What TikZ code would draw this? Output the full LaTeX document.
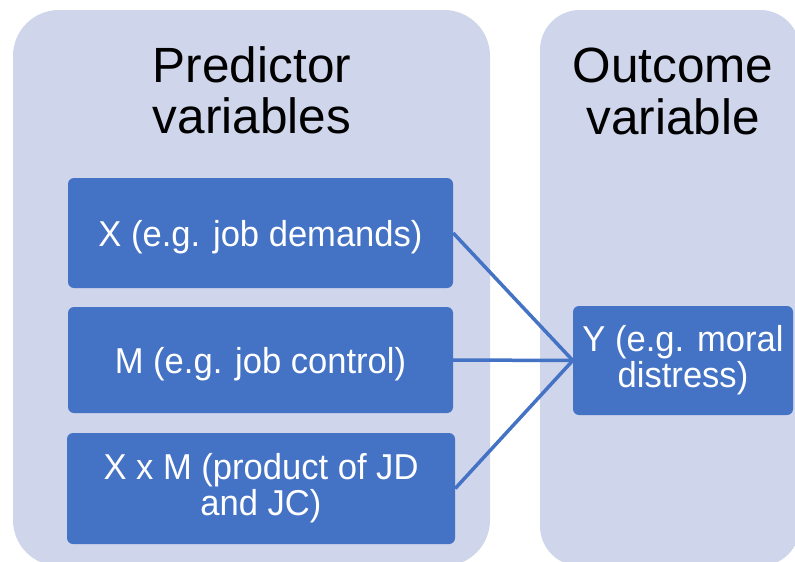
\documentclass[tikz,border=0pt]{standalone}
\usepackage{fontspec}
\setmainfont{Liberation Sans}
\newfontfamily\boxfont[FakeStretch=0.96]{Liberation Sans}
\definecolor{panelfill}{HTML}{CFD5EA}
\definecolor{boxblue}{HTML}{4472C4}

\begin{document}
\begin{tikzpicture}[x=1pt,y=-1pt,
  panelbg/.style={fill=panelfill, rounded corners=46pt},
  varbox/.style={fill=boxblue, rounded corners=6pt, inner sep=0pt, text=white,
    align=center, font=\boxfont\fontsize{36}{36}\selectfont},
  oneline/.style={text depth=0pt},
  heading/.style={align=center, inner sep=0pt, font=\fontsize{49.5}{51.5}\selectfont},
  link/.style={draw=boxblue, line width=3.5pt}]
  \useasboundingbox[fill=white] (0,0) rectangle (795,562);

  % column panels, cut off at the page edges
  \begin{scope}
    \clip (0,0) rectangle (795,562);
    \path[panelbg] (13,10) rectangle (490,566);
    \path[panelbg, rounded corners=40pt] (540,10) rectangle (800,566);
  \end{scope}

  % column headings
  \node[heading] (pred) at (252,90.5) {Predictor\\variables};
  \node[heading] (outc) at (673,91.5) {Outcome\\variable};

  % variables
  \node[varbox, oneline, minimum width=385pt, minimum height=110pt] (x)  at (260.5,233) {X (e.g. job demands)};
  \node[varbox, oneline, minimum width=385pt, minimum height=106pt] (m)  at (260.5,360) {M (e.g. job control)};
  \node[varbox, minimum width=388pt, minimum height=111pt] (xm) at (261,488.5) {X x M (product of JD\\and JC)};
  \node[varbox, minimum width=220pt, minimum height=109pt] (y)  at (683,360.5) {Y (e.g. moral\\distress)};

  % regression paths
  \draw[link] (x.east)  -- (y.west);
  \draw[link] (m.east)  -- (y.west);
  \draw[link] (xm.east) -- (y.west);
\end{tikzpicture}
\end{document}
